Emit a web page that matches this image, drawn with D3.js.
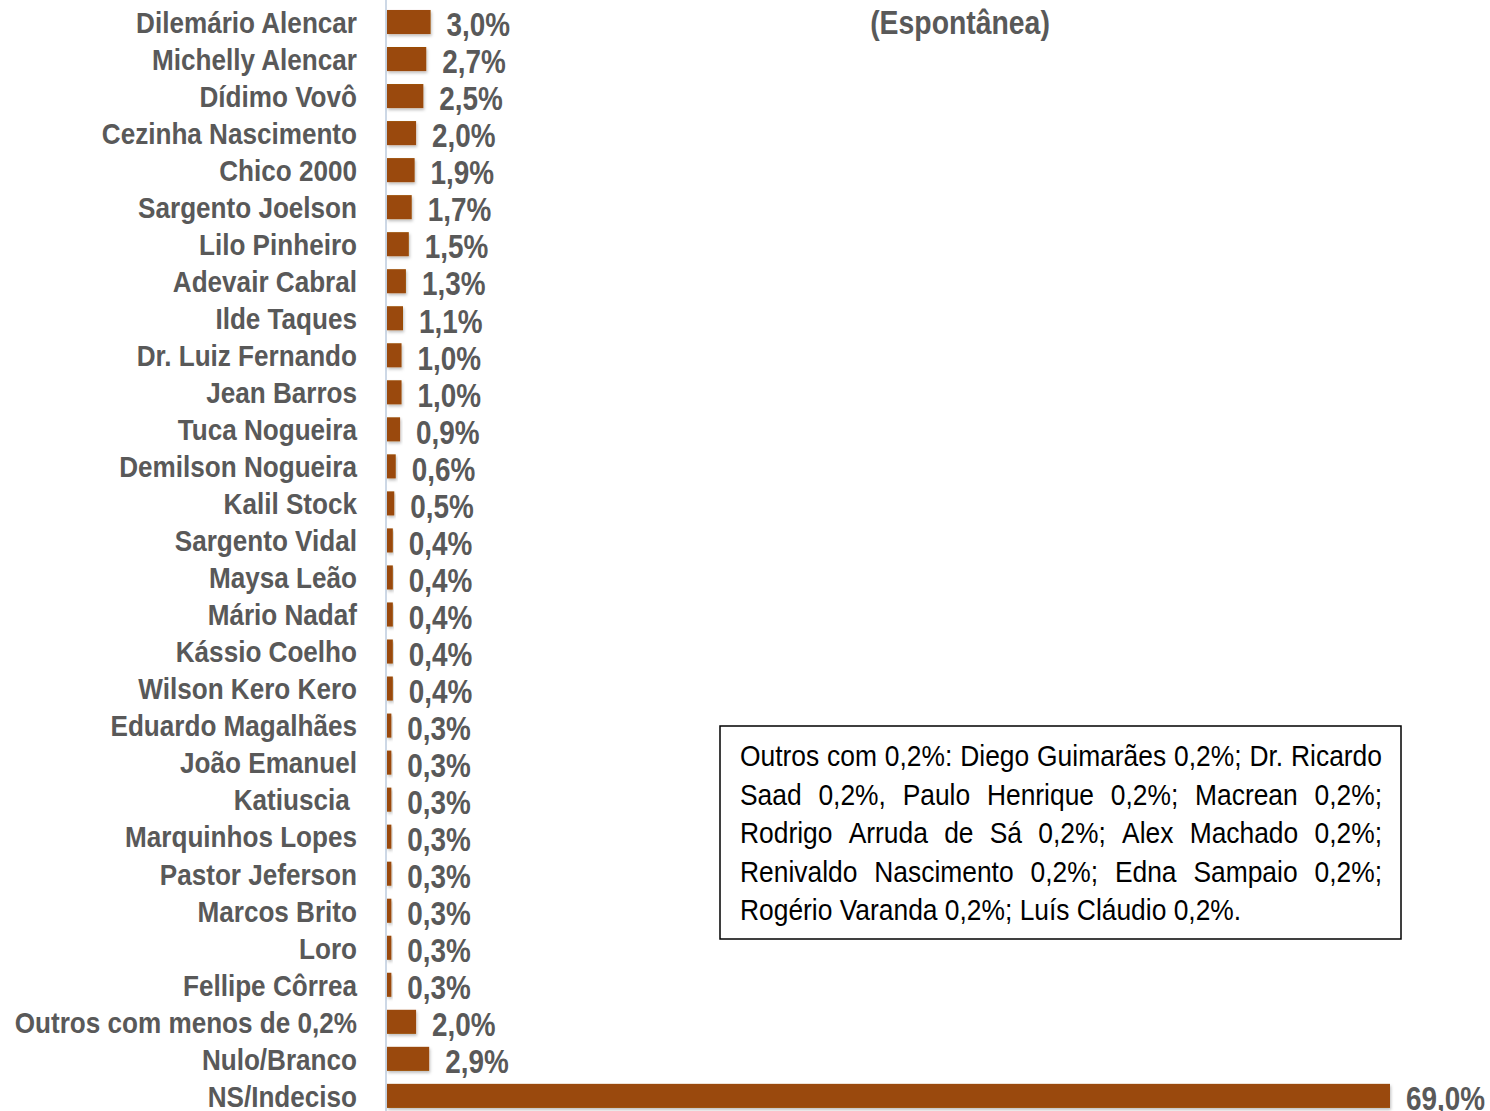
<!DOCTYPE html>
<html><head><meta charset="utf-8">
<script src="https://cdn.jsdelivr.net/npm/d3@7"></script>
<style>
html,body{margin:0;padding:0;background:#fff;}
svg{display:block;}
text{white-space:pre;}
</style></head>
<body>
<svg id="chart" width="1490" height="1111"></svg>
<script>
const categories = ["Dilemário Alencar","Michelly Alencar","Dídimo Vovô","Cezinha Nascimento","Chico 2000","Sargento Joelson","Lilo Pinheiro","Adevair Cabral","Ilde Taques","Dr. Luiz Fernando","Jean Barros","Tuca Nogueira","Demilson Nogueira","Kalil Stock","Sargento Vidal","Maysa Leão","Mário Nadaf","Kássio Coelho","Wilson Kero Kero","Eduardo Magalhães","João Emanuel","Katiuscia ","Marquinhos Lopes","Pastor Jeferson","Marcos Brito","Loro","Fellipe Côrrea","Outros com menos de 0,2%","Nulo/Branco","NS/Indeciso"];
const values = [3.0,2.7,2.5,2.0,1.9,1.7,1.5,1.3,1.1,1.0,1.0,0.9,0.6,0.5,0.4,0.4,0.4,0.4,0.4,0.3,0.3,0.3,0.3,0.3,0.3,0.3,0.3,2.0,2.9,69.0];
const subtitle = "(Espontânea)";
const noteLines = [
  "Outros com 0,2%: Diego Guimarães 0,2%; Dr. Ricardo",
  "Saad 0,2%, Paulo Henrique 0,2%; Macrean 0,2%;",
  "Rodrigo Arruda de Sá 0,2%; Alex Machado 0,2%;",
  "Renivaldo Nascimento 0,2%; Edna Sampaio 0,2%;",
  "Rogério Varanda 0,2%; Luís Cláudio 0,2%."
];

const svg = d3.select("#chart");
const FONT = "'Liberation Sans',Arial,sans-serif";
const GRAY = "#595959";
const BAR = "#9A4A07";

const x = d3.scaleLinear().domain([0, 69]).range([387, 1390]);
const y = d3.scaleBand().domain(categories).range([3.5, 1114.4]).paddingInner(0.35).paddingOuter(0.175);

const defs = svg.append("defs");
const f = defs.append("filter").attr("id","sh").attr("x","-10%").attr("y","-30%").attr("width","130%").attr("height","180%");
f.append("feDropShadow").attr("dx",1).attr("dy",2).attr("stdDeviation",1.5).attr("flood-color","#000").attr("flood-opacity",0.25);

// axis line
svg.append("line").attr("x1",386).attr("x2",386).attr("y1",0).attr("y2",1111)
  .attr("stroke","#cdd8e6").attr("stroke-width",2);

// bars
svg.append("g").selectAll("rect").data(values).join("rect")
  .attr("x", x(0))
  .attr("y", (d,i)=>y(categories[i]))
  .attr("width", d=>x(d)-x(0))
  .attr("height", y.bandwidth())
  .attr("fill", BAR)
  .attr("filter","url(#sh)");

// category labels via axis
const yAxis = d3.axisLeft(y).tickSize(0).tickPadding(0);
const ga = svg.append("g").attr("transform","translate(357,0)").call(yAxis);
ga.select(".domain").remove();
ga.selectAll("text").attr("font-family",FONT).attr("font-weight","bold")
  .attr("font-size",30).attr("fill",GRAY).attr("x",0).attr("dy","0.36em")
  .attr("transform","scale(0.87,1)");

// value labels
svg.append("g").selectAll("text").data(values).join("text")
  .attr("transform", (d,i)=>`translate(${x(d)+16},${y(categories[i]) + y.bandwidth()/2 + 2}) scale(0.82,1)`)
  .attr("dy","0.36em")
  .attr("font-family",FONT).attr("font-weight","bold").attr("font-size",34)
  .attr("fill",GRAY)
  .text(d=>d.toFixed(1).replace(".",",")+"%");

// subtitle
svg.append("text").attr("transform","translate(960,22) scale(0.86,1)").attr("dy","0.36em").attr("text-anchor","middle")
  .attr("font-family",FONT).attr("font-weight","bold").attr("font-size",33).attr("fill",GRAY)
  .text(subtitle);

// note box
const bx = 720, by = 726, bw = 681, bh = 213;
svg.append("rect").attr("x",bx).attr("y",by).attr("width",bw).attr("height",bh)
  .attr("fill","#fff").attr("stroke","#000").attr("stroke-width",1.5);
const left = 740, right = 1382, lh = 38.6, firstBase = 766, sx = 0.91;
noteLines.forEach((line,li)=>{
  const words = line.split(" ");
  const gy = firstBase + li*lh;
  const g = svg.append("g");
  const ts = words.map(w=>g.append("text").attr("font-family",FONT)
    .attr("font-size",29).attr("fill","#000").text(w));
  const widths = ts.map(t=>t.node().getComputedTextLength()*sx);
  const total = d3.sum(widths);
  const last = li === noteLines.length-1;
  const space = last ? 7.3 : (right-left-total)/(words.length-1);
  let cx = left;
  ts.forEach((t,i)=>{ t.attr("transform",`translate(${cx},${gy}) scale(${sx},1)`); cx += widths[i] + space; });
});
</script>
</body></html>
